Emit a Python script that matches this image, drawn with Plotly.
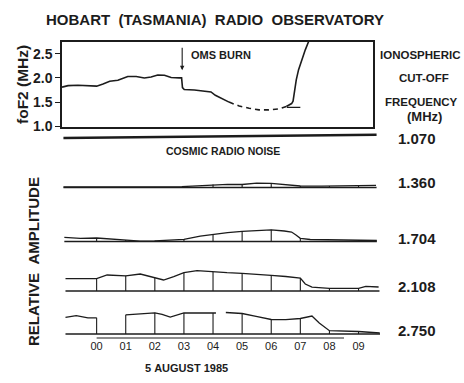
import plotly.graph_objects as go

# ---------------- data ----------------
# foF2 (MHz) vs hour (UT, 5 Aug 1985)
fof2_solid_hours = [-1.19, -0.98, -0.64, -0.30, 0.0, 0.22, 0.45, 0.73, 0.90, 1.07, 1.36, 1.64, 1.87,
                    2.10, 2.33, 2.56, 2.84, 2.92, 2.95, 3.01, 3.36, 3.70, 3.93, 4.08, 4.33, 4.55]
fof2_solid_vals = [1.81, 1.84, 1.85, 1.84, 1.83, 1.875, 1.93, 1.95, 1.985, 2.03, 2.03, 2.00, 2.02,
                   2.06, 2.055, 2.01, 2.00, 2.00, 1.80, 1.76, 1.75, 1.735, 1.71, 1.64, 1.56, 1.50]
fof2_dash_hours = [4.55, 4.90, 5.24, 5.58, 5.92, 6.27, 6.52]
fof2_dash_vals = [1.50, 1.42, 1.375, 1.34, 1.34, 1.36, 1.41]
fof2_rise_hours = [6.52, 6.62, 6.70, 6.75, 6.80, 6.86, 6.94, 7.06, 7.17, 7.29]
fof2_rise_vals = [1.41, 1.44, 1.47, 1.52, 1.72, 1.96, 2.17, 2.41, 2.58, 2.76]
floor_hours = [6.54, 7.00]
floor_vals = [1.39, 1.39]
fof2_ticks = [1.0, 1.5, 2.0, 2.5]
fof2_ticktext = ["1.0", "1.5", "2.0", "2.5"]
burn_hour, burn_val = 2.94, 2.16

# relative amplitude of riometer channels
ch_labels = ["1.070", "1.360", "1.704", "2.108", "2.750"]

h1070 = [-1.14, 0, 1, 2, 3, 4, 5, 6, 7, 8, 9, 9.62]
a1070 = [0.0, 0.3, 0.5, 0.7, 0.9, 1.2, 1.5, 1.8, 2.2, 2.6, 3.0, 3.2]

h1360 = [-1.14, -0.5, 0, 1, 2, 2.93, 3, 3.5, 4, 4.5, 5, 5.5, 6, 6.5, 7, 7.74, 8, 9, 9.6]
a1360 = [0.6, 0.5, 0.6, 0.5, 0.6, 0.9, 1.0, 2.0, 3.0, 3.1, 3.0, 4.3, 4.2, 2.6, 1.5, 1.3, 1.5, 1.8, 2.2]

h1704 = [-1.11, -0.56, 0, 0.47, 1, 1.5, 2, 2.5, 3, 3.56, 4, 4.5, 5, 5.5, 6, 6.45, 6.7, 6.85, 7, 7.34, 8, 9, 9.63]
a1704 = [4.2, 3.2, 3.5, 2.5, 1.5, 0.3, 0.7, 1.3, 2.2, 5.3, 7.2, 8.8, 10.2, 11.2, 11.7, 10.5, 9.5, 6.5, 3.2, 2.0, 1.5, 1.2, 1.0]

h2108 = [-1.07, 0, 0.36, 1, 1.5, 2, 2.3, 2.65, 3, 3.45, 4, 4.48, 5, 5.51, 6, 6.5, 7, 7.17, 7.4, 8, 9, 9.25, 9.69]
a2108 = [12.3, 12.3, 16, 15.2, 17, 13.2, 11, 14.3, 18.3, 20.3, 19, 18.3, 17.7, 17, 15.7, 14.5, 13, 7, 3.8, 2.7, 2.7, 4.7, 4.0]

h2750_a = [-1.07, -0.7, -0.3, 0]
a2750_a = [16.7, 18.3, 16.2, 16.2]
h2750_b = [1, 1.56, 2, 2.25, 2.53, 3, 3.5, 4, 4.1]
a2750_b = [19.2, 20.7, 21.2, 19.7, 17, 21, 21, 21, 21]
h2750_c = [4.44, 5, 5.48, 6, 6.5, 7, 7.4, 7.65, 8, 9, 9.73]
a2750_c = [21.5, 20.5, 17.7, 14.5, 14.3, 15.5, 18, 11, 3.3, 2.5, 1.0]

hour_ticks = [0, 1, 2, 3, 4, 5, 6, 7, 8, 9]
hour_text = ["00", "01", "02", "03", "04", "05", "06", "07", "08", "09"]

# ---------------- layout helpers ----------------
W, H = 464, 383
L, R, T, B = 62, 84, 42, 45
PW, PH = W - L - R, H - T - B


def px(xp):
    return (xp - L) / PW


def py(yp):
    return (H - B - yp) / PH


INK = "#1c1c1c"
FONT = "Liberation Sans, Arial, Helvetica, sans-serif"

fig = go.Figure()

# top panel traces (x2, y)
fig.add_trace(go.Scatter(x=fof2_solid_hours, y=fof2_solid_vals, mode="lines",
                         line=dict(color=INK, width=1.6), xaxis="x2", yaxis="y"))
fig.add_trace(go.Scatter(x=fof2_dash_hours, y=fof2_dash_vals, mode="lines",
                         line=dict(color=INK, width=1.6, dash="5px,4px"), xaxis="x2", yaxis="y"))
fig.add_trace(go.Scatter(x=fof2_rise_hours, y=fof2_rise_vals, mode="lines",
                         line=dict(color=INK, width=1.6), xaxis="x2", yaxis="y"))
fig.add_trace(go.Scatter(x=floor_hours, y=floor_vals, mode="lines",
                         line=dict(color=INK, width=1.3), xaxis="x2", yaxis="y"))

# channel panels
baselines_px = [138, 187.5, 241.5, 291, 334]
channel_segments = [
    [(h1070, a1070)],
    [(h1360, a1360)],
    [(h1704, a1704)],
    [(h2108, a2108)],
    [(h2750_a, a2750_a), (h2750_b, a2750_b), (h2750_c, a2750_c)],
]
vertical_hours = [
    [],
    list(range(0, 10)),
    list(range(0, 8)),
    list(range(0, 10)),
    list(range(0, 10)),
]
base_extent = [None, (-1.14, 9.62), (-1.11, 9.63), (-1.07, 9.72), (-1.07, 9.78)]

layout_axes = {}
for i, lab in enumerate(ch_labels):
    ya = "y%d" % (i + 2)
    bpx = baselines_px[i]
    layout_axes["yaxis%d" % (i + 2)] = dict(
        domain=[py(bpx + 2), py(bpx - 24)], range=[-2, 24], anchor="x",
        visible=False, fixedrange=True, automargin=False)
    for hs, am in channel_segments[i]:
        fig.add_trace(go.Scatter(x=hs, y=am, mode="lines",
                                 line=dict(color=INK, width=2.6 if i == 0 else 1.3),
                                 xaxis="x", yaxis=ya))
    if base_extent[i] is not None:
        x0, x1 = base_extent[i]
        fig.add_trace(go.Scatter(x=[x0, x1], y=[0, 0], mode="lines",
                                 line=dict(color=INK, width=1.5), xaxis="x", yaxis=ya))
    vx, vy = [], []
    for hs, am in channel_segments[i]:
        for hh, aa in zip(hs, am):
            if hh in vertical_hours[i] and float(hh).is_integer():
                vx += [hh, hh, None]
                vy += [0, aa, None]
    if vx:
        fig.add_trace(go.Scatter(x=vx, y=vy, mode="lines",
                                 line=dict(color=INK, width=1.1), xaxis="x", yaxis=ya))

x_left = -1.19
x_right = x_left + PW / 29.1
top_right_px = 372.7

annotations = []


def txt(text, x, y, size, bold=True, angle=0, xanchor="center", color=INK):
    annotations.append(dict(
        text=("<b>%s</b>" % text) if bold else text, x=px(x), y=py(y),
        xref="paper", yref="paper", showarrow=False, textangle=angle,
        xanchor=xanchor, yanchor="middle",
        font=dict(family=FONT, size=size, color=color)))


NB = "\u00a0"
txt("HOBART" + NB * 2 + "(TASMANIA)" + NB * 2 + "RADIO" + NB * 2 + "OBSERVATORY", 215, 19, 15)
txt("foF2" + NB + "(MHz)", 22, 85, 15.5, angle=-90)
txt("RELATIVE" + NB + NB + "AMPLITUDE", 33, 262, 15, angle=-90)
txt("IONOSPHERIC", 420, 55, 11.5)
txt("CUT-OFF", 424, 78, 11.5)
txt("FREQUENCY", 421, 102, 11.5)
txt("(MHz)", 424, 116, 13)
for lab, ypos in zip(ch_labels, [138, 182, 238, 286, 330]):
    txt(lab, 417, ypos, 15)
txt("COSMIC" + NB + "RADIO" + NB + "NOISE", 223, 151, 10.5)
txt("OMS" + NB + "BURN", 189, 55, 11, xanchor="left")
txt("5" + NB + "AUGUST" + NB + "1985", 186, 368, 11)

annotations.append(dict(
    x=burn_hour, y=burn_val, xref="x2", yref="y", text="", showarrow=True,
    ax=0, ay=-24, arrowhead=2, arrowsize=0.8, arrowwidth=1.1, arrowcolor=INK,
    standoff=0))

fig.update_layout(
    width=W, height=H, margin=dict(l=L, r=R, t=T, b=B, autoexpand=False),
    paper_bgcolor="white", plot_bgcolor="white", showlegend=False,
    font=dict(family=FONT, color=INK),
    xaxis=dict(domain=[0, 1], range=[x_left, x_right], anchor="free", position=0,
               showline=False, showgrid=False, zeroline=False, ticks="",
               tickvals=hour_ticks, ticktext=hour_text, automargin=False,
               tickfont=dict(family=FONT, size=11, color=INK), fixedrange=True),
    xaxis2=dict(domain=[0, px(top_right_px)], range=[x_left, x_left + (top_right_px - L) / 29.1],
                anchor="y", showline=True, mirror=True, linewidth=1.5, linecolor=INK,
                automargin=False,
                showgrid=False, zeroline=False, ticks="", showticklabels=False, fixedrange=True),
    yaxis=dict(domain=[py(127), 1.0], range=[0.986, 2.742], anchor="x2",
               showline=True, mirror=True, linewidth=1.5, linecolor=INK, automargin=False,
               showgrid=False, zeroline=False, ticks="outside", ticklen=5, tickwidth=1.2,
               tickcolor=INK, tickvals=fof2_ticks,
               ticktext=["<b>%s</b>" % t for t in fof2_ticktext],
               tickfont=dict(family=FONT, size=14, color=INK), fixedrange=True),
    annotations=annotations,
    shapes=[dict(type="line", xref="x", yref="paper", x0=0, x1=8.5, y0=0, y1=0,
                 line=dict(color=INK, width=1.1))],
    **layout_axes,
)

fig.write_html("out.html", config={"displayModeBar": False},
               post_script="document.body.style.margin='0';document.body.style.overflow='hidden';")
